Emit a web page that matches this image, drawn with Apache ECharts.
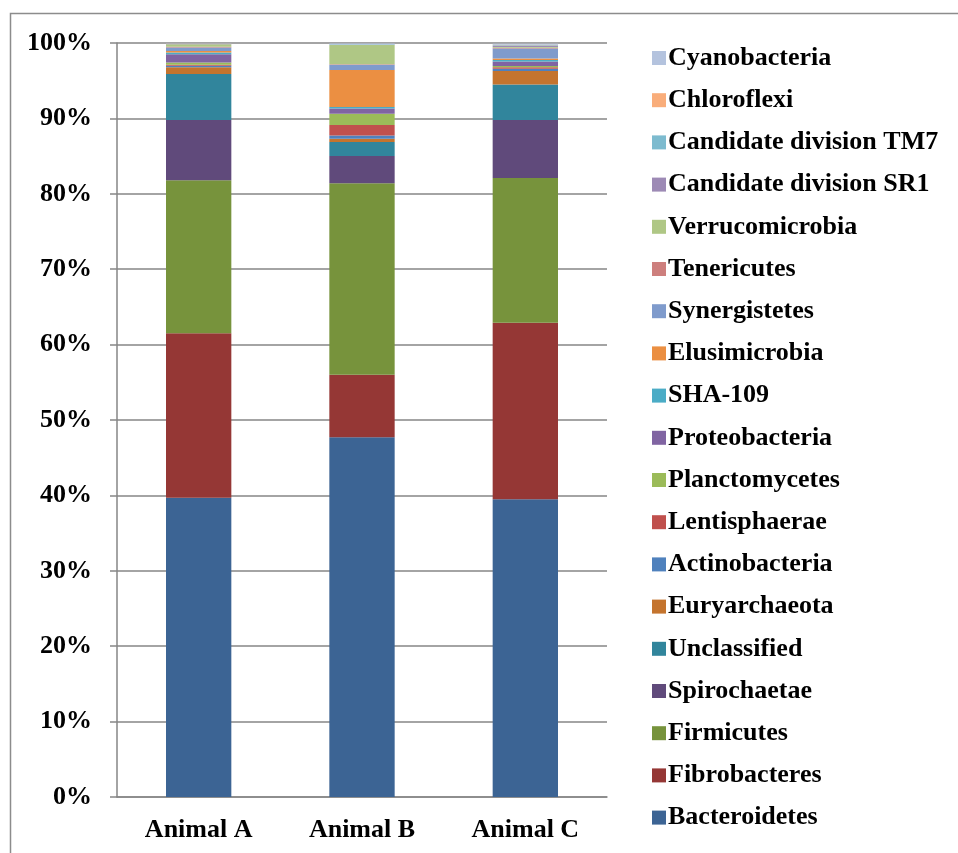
<!DOCTYPE html>
<html>
<head>
<meta charset="utf-8">
<title>Phylum composition</title>
<script src="https://cdn.jsdelivr.net/npm/echarts@6/dist/echarts.min.js"></script>
<style>
    html, body { margin: 0; padding: 0; background: #fff; }
    #main { width: 958px; height: 853px; }
</style>
</head>
<body>
<div id="main"></div>
<script>
"use strict";
// 数据：各门类（自下而上堆叠）
var animals = ['Animal A', 'Animal B', 'Animal C'];
var phyla = ['Bacteroidetes', 'Fibrobacteres', 'Firmicutes', 'Spirochaetae', 'Unclassified',
    'Euryarchaeota', 'Actinobacteria', 'Lentisphaerae', 'Planctomycetes', 'Proteobacteria',
    'SHA-109', 'Elusimicrobia', 'Synergistetes', 'Tenericutes', 'Verrucomicrobia',
    'Candidate division SR1', 'Candidate division TM7', 'Chloroflexi', 'Cyanobacteria'];
var animalA = [39.7, 21.8, 20.3, 8.0, 6.1, 0.9, 0.18, 0.13, 0.3, 1.1, 0.22, 0.22, 0.44, 0.1, 0.35, 0.05, 0.04, 0.03, 0.04];
var animalB = [47.7, 8.3, 25.4, 3.6, 1.86, 0.44, 0.44, 1.38, 1.5, 0.7, 0.2, 4.9, 0.7, 0.05, 2.55, 0.05, 0.05, 0.03, 0.1];
var animalC = [39.5, 23.4, 19.2, 7.7, 4.7, 1.8, 0.3, 0.18, 0.18, 0.57, 0.22, 0.18, 1.33, 0.1, 0.1, 0.15, 0.1, 0.05, 0.14];
var colors = ['#3C6494', '#953735', '#77933C', '#604A7B', '#31859C',
    '#C4742E', '#4F81BD', '#C0504D', '#9BBB59', '#8064A2',
    '#4BACC6', '#EB8F42', '#7F9BCC', '#CD7F7D', '#AFC785',
    '#9D8AB5', '#7DBBCF', '#F9AD7A', '#B4C3DE'];
var yTicks = [0, 10, 20, 30, 40, 50, 60, 70, 80, 90, 100];

var font = '"Liberation Serif", "Times New Roman", serif';
var axisGray = '#868686';

function initChart() {
    var myChart = echarts.init(document.getElementById('main'));
    var series = phyla.map(function (name, i) {
        return {
            name: name,
            type: 'bar',
            stack: 'total',
            barWidth: '40%',
            itemStyle: { color: colors[i] },
            data: [animalA[i], animalB[i], animalC[i]]
        };
    });
    var option = {
        animation: false,
        graphic: [{
            type: 'rect',
            shape: { x: 10.5, y: 13.5, width: 1000, height: 1000 },
            style: { fill: 'none', stroke: '#8c8c8c', lineWidth: 1.5 }
        }],
        legend: {
            orient: 'vertical',
            left: 647,
            top: 40,
            icon: 'rect',
            itemWidth: 14,
            itemHeight: 14,
            itemGap: 16.2,
            data: phyla.slice().reverse(),
            textStyle: {
                fontFamily: font,
                fontWeight: 'bold',
                fontSize: 26,
                lineHeight: 26,
                color: '#000',
                padding: [0, 0, 0, -3]
            }
        },
        grid: {
            left: 117,
            right: 351,
            top: 43,
            bottom: 56
        },
        xAxis: {
            type: 'category',
            data: animals,
            axisLine: { lineStyle: { color: axisGray, width: 1.5 } },
            axisTick: { length: 6, lineStyle: { color: axisGray, width: 1.5 } },
            axisLabel: {
                margin: 20,
                fontFamily: font,
                fontWeight: 'bold',
                fontSize: 26,
                color: '#000'
            }
        },
        yAxis: {
            type: 'value',
            min: yTicks[0],
            max: yTicks[yTicks.length - 1],
            interval: 10,
            axisLine: { show: true, lineStyle: { color: axisGray, width: 1.5 } },
            axisTick: { show: true, length: 7, lineStyle: { color: axisGray, width: 1.5 } },
            splitLine: { lineStyle: { color: axisGray, width: 1.5 } },
            axisLabel: {
                margin: 25,
                formatter: '{value}%',
                fontFamily: font,
                fontWeight: 'bold',
                fontSize: 26,
                color: '#000'
            }
        },
        series: series
    };
    myChart.setOption(option);
    return myChart;
}

var myChart = initChart();
window.onresize = function () {
    myChart.resize();
};
</script>
</body>
</html>
